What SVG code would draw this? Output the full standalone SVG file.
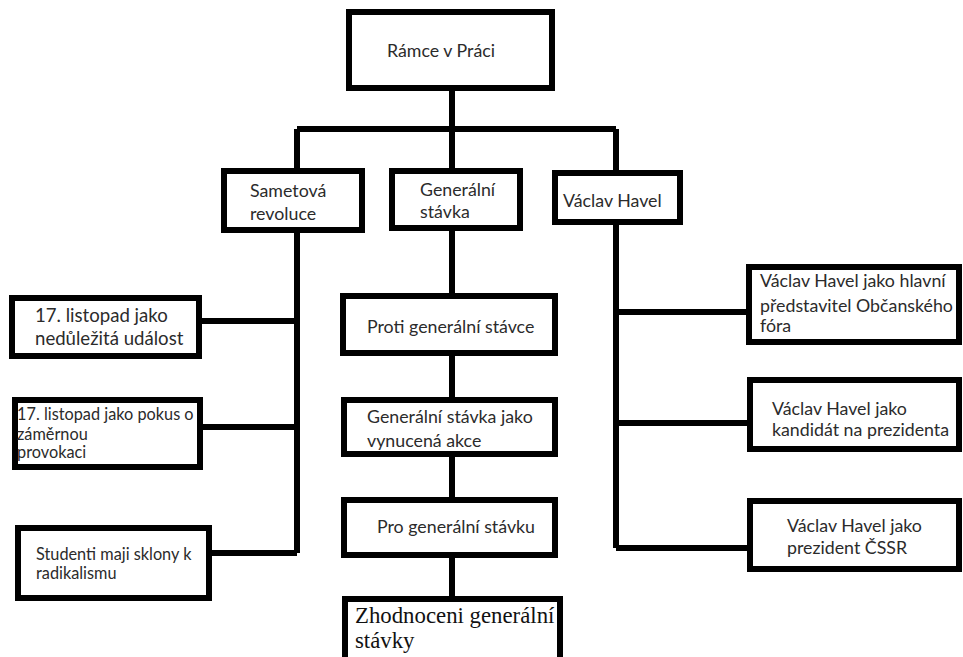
<svg xmlns="http://www.w3.org/2000/svg" width="963" height="657" viewBox="0 0 963 657">
<style>
.box{fill:#fff;stroke:#000;stroke-width:6}
.con{fill:none;stroke:#000;stroke-width:6}
.t{font-family:Lato,"Open Sans","Liberation Sans",sans-serif;font-size:17.8px;fill:#2b2b2b}
.s{font-size:16.3px}
.l{font-size:18.6px}
.serif{font-family:"Liberation Serif","DejaVu Serif",serif;font-size:22.8px;fill:#111}
</style>
<rect width="963" height="657" fill="#fff"/>
<g id="connectors" class="con">
<path d="M452 91V129M297 129H616M297 129V171M452 129V171M616 129V173"/>
<path d="M297 230V553M199 321H297M200 427H297M209 553H297"/>
<path d="M452 228V296M452 353V400M452 454V500M452 555V599"/>
<path d="M616 222V548M616 312H749M616 423H750M616 548H750"/>
</g>
<g id="n-root"><rect class="box" x="349" y="12" width="203" height="76"/><text class="t" x="387" y="57">Rámce v Práci</text></g>
<g id="n-sametova"><rect class="box" x="224" y="171" width="138" height="59"/><text class="t" x="250" y="197">Sametová</text><text class="t" x="250" y="220">revoluce</text></g>
<g id="n-generalni"><rect class="box" x="392" y="171" width="128" height="57"/><text class="t" x="420" y="196">Generální</text><text class="t" x="420" y="218">stávka</text></g>
<g id="n-havel"><rect class="box" x="555" y="173" width="125" height="49"/><text class="t" x="563" y="207">Václav Havel</text></g>
<g id="n-l1"><rect class="box" x="12" y="298" width="187" height="58"/><text class="t l" x="35" y="322">17. listopad jako</text><text class="t l" x="35" y="345">nedůležitá událost</text></g>
<g id="n-l2"><rect class="box" x="15" y="400" width="185" height="67"/><text class="t s" x="17" y="420">17. listopad jako pokus o</text><text class="t s" x="17" y="440">záměrnou</text><text class="t s" x="17" y="458">provokaci</text></g>
<g id="n-l3"><rect class="box" x="18" y="528" width="191" height="70"/><text class="t s" x="36" y="560">Studenti maji sklony k</text><text class="t s" x="36" y="579">radikalismu</text></g>
<g id="n-c1"><rect class="box" x="343" y="296" width="212" height="57"/><text class="t" x="367" y="333">Proti generální stávce</text></g>
<g id="n-c2"><rect class="box" x="344" y="400" width="211" height="54"/><text class="t" x="367" y="423">Generální stávka jako</text><text class="t" x="367" y="447">vynucená akce</text></g>
<g id="n-c3"><rect class="box" x="344" y="500" width="211" height="55"/><text class="t" x="377" y="533">Pro generální stávku</text></g>
<g id="n-c4"><rect class="box" x="345" y="599" width="215" height="70"/><text class="serif" x="355" y="623">Zhodnoceni generální</text><text class="serif" x="355" y="648">stávky</text></g>
<g id="n-r1"><rect class="box" x="749" y="267" width="210" height="75"/><text class="t" x="760" y="287">Václav Havel jako hlavní</text><text class="t" x="760" y="312">představitel Občanského</text><text class="t" x="760" y="332">fóra</text></g>
<g id="n-r2"><rect class="box" x="750" y="380" width="209" height="69"/><text class="t" x="772" y="415">Václav Havel jako</text><text class="t" x="772" y="436">kandidát na prezidenta</text></g>
<g id="n-r3"><rect class="box" x="750" y="501" width="209" height="68"/><text class="t" x="787" y="532">Václav Havel jako</text><text class="t" x="787" y="554">prezident ČSSR</text></g>
</svg>
